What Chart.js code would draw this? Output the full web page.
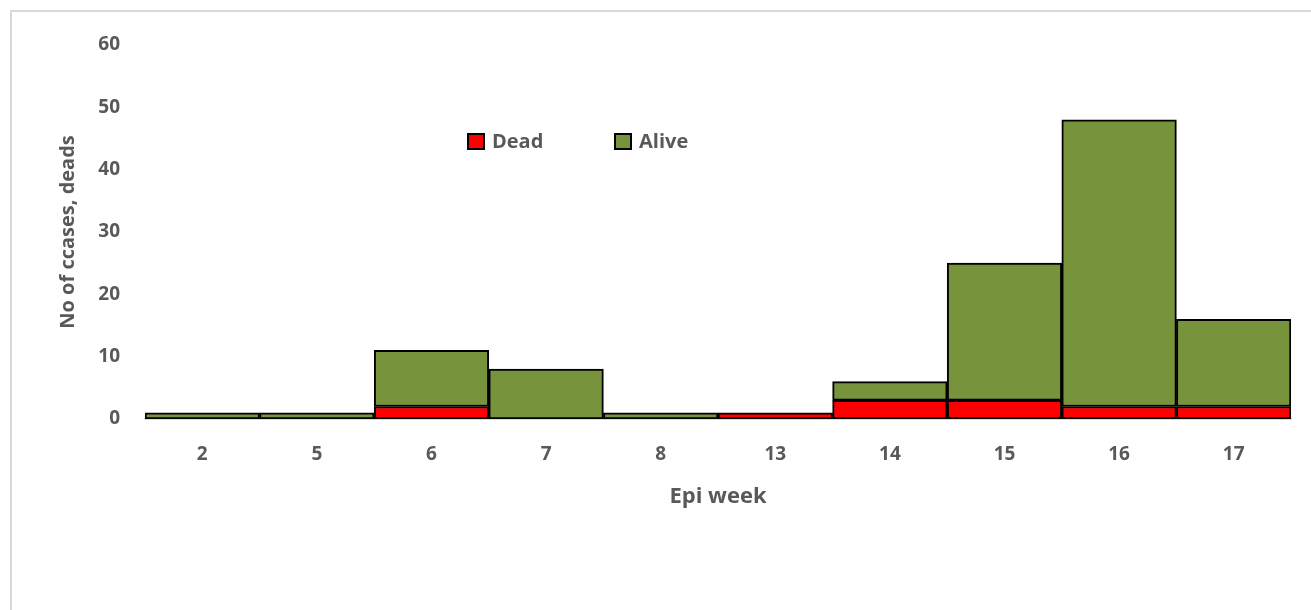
<!DOCTYPE html>
<html>
<head>
<meta charset="utf-8">
<script src="https://cdn.jsdelivr.net/npm/chart.js@4"></script>
<style>
  html, body { margin: 0; padding: 0; background: #fff; }
  #frame {
    position: absolute; left: 10px; top: 10px;
    width: 1400px; height: 700px;
    border-left: 2px solid #d9d9d9; border-top: 2px solid #d9d9d9;
  }
  #wrap { position: absolute; left: 0; top: 0; width: 1311px; height: 610px; }
</style>
</head>
<body>
<div id="frame"></div>
<div id="wrap"><canvas id="chart"></canvas></div>
<script>
const weeks = ['2', '5', '6', '7', '8', '13', '14', '15', '16', '17'];
const dead = [null, null, 2, null, null, 1, 3, 3, 2, 2];
const alive = [1, 1, 9, 8, 1, null, 3, 22, 46, 14];
const yTicks = [0, 10, 20, 30, 40, 50, 60];

const textColor = '#595959';
const fontFamily = '"Open Sans", "Noto Sans", sans-serif';

// legend drawn inside the plot, like the original
const innerLegend = {
  id: 'innerLegend',
  afterDraw(chart) {
    const ctx = chart.ctx;
    const items = [
      { ds: chart.data.datasets[0], x: 468 },
      { ds: chart.data.datasets[1], x: 615 },
    ];
    ctx.save();
    ctx.font = 'bold 20px ' + fontFamily;
    ctx.textBaseline = 'middle';
    items.forEach(it => {
      ctx.fillStyle = it.ds.backgroundColor;
      ctx.fillRect(it.x, 134, 16, 15);
      ctx.strokeStyle = '#000';
      ctx.lineWidth = 2;
      ctx.strokeRect(it.x, 134, 16, 15);
      ctx.fillStyle = textColor;
      ctx.fillText(it.ds.label, it.x + 24, 142);
    });
    ctx.restore();
  }
};

new Chart(document.getElementById('chart'), {
  type: 'bar',
  data: {
    labels: weeks,
    datasets: [
      {
        label: 'Dead',
        data: dead,
        backgroundColor: '#ff0000',
        borderColor: '#000',
        borderWidth: 2,
        borderSkipped: false,
        barPercentage: 1,
        categoryPercentage: 1,
      },
      {
        label: 'Alive',
        data: alive,
        backgroundColor: '#77933c',
        borderColor: '#000',
        borderWidth: 2,
        borderSkipped: false,
        barPercentage: 1,
        categoryPercentage: 1,
      }
    ],
  },
  options: {
    responsive: true,
    maintainAspectRatio: false,
    animation: false,
    layout: {
      padding: { left: 52, right: 20, top: 45, bottom: 96 },
    },
    plugins: {
      legend: { display: false },
      tooltip: { enabled: false },
    },
    scales: {
      x: {
        stacked: true,
        grid: { display: false, drawTicks: false },
        border: { display: true, color: '#d9d9d9', width: 2 },
        ticks: {
          color: textColor,
          font: { family: fontFamily, size: 19, weight: 'bold' },
          padding: 24,
        },
        title: {
          display: true,
          text: 'Epi week',
          color: textColor,
          font: { family: fontFamily, size: 22, weight: 'bold' },
        },
        afterFit(scale) { scale.height = 95; },
      },
      y: {
        stacked: true,
        min: 0,
        max: 60,
        grid: { display: false, drawTicks: false },
        border: { display: false },
        afterBuildTicks(scale) { scale.ticks = yTicks.map(v => ({ value: v })); },
        ticks: {
          color: textColor,
          font: { family: fontFamily, size: 19, weight: 'bold' },
          padding: 25,
        },
        title: {
          display: true,
          text: 'No of ccases, deads',
          color: textColor,
          font: { family: fontFamily, size: 20, weight: 'bold' },
        },
        afterFit(scale) { scale.width = 93; },
      }
    },
  },
  plugins: [innerLegend],
});
</script>
</body>
</html>
